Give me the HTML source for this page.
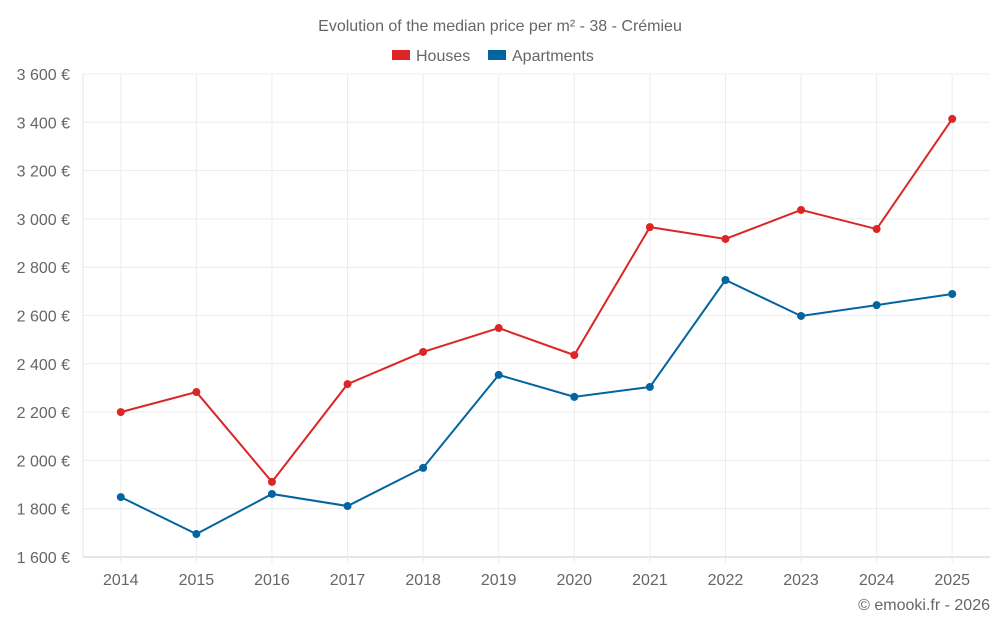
<!DOCTYPE html>
<html><head><meta charset="utf-8">
<style>
html,body{margin:0;padding:0;background:#fff;}
svg{display:block;font-family:"Liberation Sans",sans-serif;}
</style></head>
<body>
<svg id="chart" width="1000" height="625" viewBox="0 0 1000 625">
<text x="500" y="31" text-anchor="middle" font-size="16" fill="#666">Evolution of the median price per m² - 38 - Crémieu</text>
<g>
<g><rect x="392" y="50" width="18" height="10" fill="#dc2626"/><text x="416" y="61" font-size="16" fill="#666">Houses</text></g>
<g><rect x="488" y="50" width="18" height="10" fill="#0364a0"/><text x="512" y="61" font-size="16" fill="#666">Apartments</text></g>
</g>
<g id="grid"></g>
<g id="axes"></g>
<g id="series"></g>
<text x="990" y="610" text-anchor="end" font-size="16" fill="#666">© emooki.fr - 2026</text>
</svg>
<script>
const years = ["2014","2015","2016","2017","2018","2019","2020","2021","2022","2023","2024","2025"];
const houses = [2200,2283,1911,2316,2449,2548,2436,2966,2917,3037,2958,3414];
const apartments = [1848,1695,1861,1811,1969,2354,2263,2304,2747,2598,2643,2689];
const yTicks = [1600,1800,2000,2200,2400,2600,2800,3000,3200,3400,3600];
const yTickLabels = ["1 600 €","1 800 €","2 000 €","2 200 €","2 400 €","2 600 €","2 800 €","3 000 €","3 200 €","3 400 €","3 600 €"];

const L=83,R=990,T=74,B=557,yMin=1600,yMax=3600;
const band=(R-L)/years.length;
const x=i=>L+band*(i+0.5);
const y=v=>B-(v-yMin)/(yMax-yMin)*(B-T);
const NS="http://www.w3.org/2000/svg";
function mk(tag,attrs,parent){const e=document.createElementNS(NS,tag);for(const k in attrs)e.setAttribute(k,attrs[k]);parent.appendChild(e);return e;}
const grid=document.getElementById('grid'),axes=document.getElementById('axes'),series=document.getElementById('series');
yTicks.forEach((t,i)=>{
  const ln=mk('line',{x1:L,x2:R,y1:y(t),y2:y(t),stroke:i===0?'#ccc':'#ececec','stroke-width':1},grid);
  
  
  const tx=mk('text',{x:70,y:y(t)+6,'text-anchor':'end','font-size':16,fill:'#666'},axes);
  tx.textContent=yTickLabels[i];
  
  
});
const la=mk('line',{x1:L,x2:L,y1:T,y2:B,stroke:'#e4e4e4','stroke-width':1},grid);


years.forEach((yr,i)=>{
  const ln=mk('line',{x1:x(i),x2:x(i),y1:T,y2:B+6,stroke:'#ececec','stroke-width':1},grid);
  
  
  const tx=mk('text',{x:x(i),y:585,'text-anchor':'middle','font-size':16,fill:'#666'},axes);
  tx.textContent=yr;
  
  
});
function draw(vals,color,name){
  const p=mk('polyline',{points:vals.map((v,i)=>x(i)+','+y(v)).join(' '),fill:'none',stroke:color,'stroke-width':2},series);
  
  
  vals.forEach((v,i)=>{
    const c=mk('circle',{cx:x(i),cy:y(v),r:4,fill:color},series);
    
    
  });
}
draw(houses,'#dc2626','houses');
draw(apartments,'#0364a0','apartments');
</script>
</body></html>
